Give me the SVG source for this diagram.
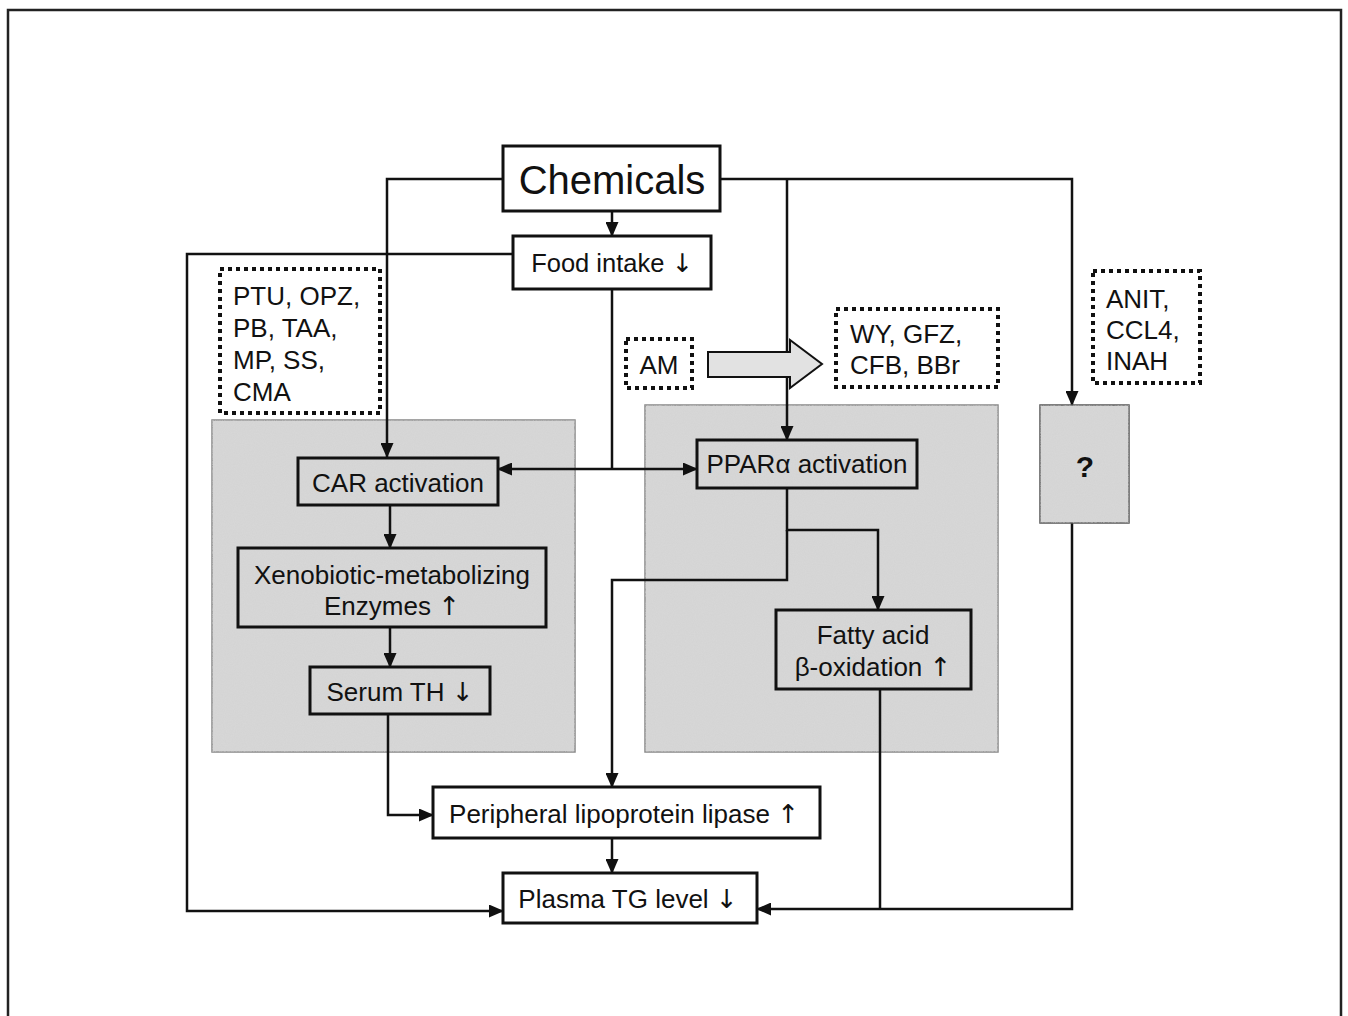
<svg xmlns="http://www.w3.org/2000/svg" width="1348" height="1016" viewBox="0 0 1348 1016">
<defs>
<marker id="ah" viewBox="0 0 15 13" refX="14" refY="6.5" markerWidth="15" markerHeight="13" markerUnits="userSpaceOnUse" orient="auto-start-reverse">
<path d="M0,0 L15,6.5 L0,13 Z" fill="#111"/>
</marker>
<filter id="grain" x="0" y="0" width="100%" height="100%">
<feTurbulence type="fractalNoise" baseFrequency="0.9" numOctaves="1" seed="3" result="n"/>
<feColorMatrix in="n" type="matrix" values="0 0 0 0 0.7  0 0 0 0 0.7  0 0 0 0 0.7  0 0 0 -1.5 1.2" result="g"/>
<feComposite in="g" in2="SourceGraphic" operator="in"/>
</filter>
</defs>
<style>
text{font-family:"Liberation Sans",Arial,sans-serif;fill:#111}
.c{text-anchor:middle}
.t{font-size:26px}
.d{font-size:26px}
.ar{font-family:"DejaVu Sans",sans-serif;fill:#111}
.box{fill:#fff;stroke:#111;stroke-width:3}
.gbox{fill:none;stroke:#111;stroke-width:3}
.panel{fill:#d4d4d4;stroke:#888;stroke-width:1.5}
.dot{fill:#fff;stroke:#111;stroke-width:4;stroke-dasharray:4 4}
.ln{fill:none;stroke:#111;stroke-width:2.5}
</style>
<rect x="0" y="0" width="1348" height="1016" fill="#fff"/>
<path d="M8,1016 V10 H1341 V1016" fill="none" stroke="#222" stroke-width="2.5"/>

<g id="panel-car">
<rect class="panel" x="212" y="420" width="363" height="332"/>
<rect x="212" y="420" width="363" height="332" filter="url(#grain)" opacity="0.6"/>
</g>
<g id="panel-ppar">
<rect class="panel" x="645" y="405" width="353" height="347"/>
<rect x="645" y="405" width="353" height="347" filter="url(#grain)" opacity="0.6"/>
</g>

<g id="connectors">
<path class="ln" d="M503,179 H387 V457" marker-end="url(#ah)"/>
<path class="ln" d="M720,179 H1072 V405" marker-end="url(#ah)"/>
<path class="ln" d="M787,179 V440" marker-end="url(#ah)"/>
<path class="ln" d="M612,211 V236" marker-end="url(#ah)"/>
<path class="ln" d="M513,254 H187 V911 H503" marker-end="url(#ah)"/>
<path class="ln" d="M612,289 V469"/>
<path class="ln" d="M498,469 H697" marker-start="url(#ah)" marker-end="url(#ah)"/>
<path class="ln" d="M390,505 V548" marker-end="url(#ah)"/>
<path class="ln" d="M390,627 V667" marker-end="url(#ah)"/>
<path class="ln" d="M388,714 V815 H433" marker-end="url(#ah)"/>
<path class="ln" d="M612,838 V873" marker-end="url(#ah)"/>
<path class="ln" d="M787,488 V530 H878 V610" marker-end="url(#ah)"/>
<path class="ln" d="M787,530 V580 H612 V787" marker-end="url(#ah)"/>
<path class="ln" d="M880,689 V909"/>
<path class="ln" d="M1072,523 V909 H757" marker-end="url(#ah)"/>
</g>

<g id="chemicals">
<rect class="box" x="503" y="146" width="217" height="65"/>
<text class="c" x="612" y="194" font-size="40">Chemicals</text>
</g>
<g id="food-intake">
<rect class="box" x="513" y="236" width="198" height="53"/>
<text class="c" x="612" y="272" font-size="25.5">Food intake <tspan class="ar">↓</tspan></text>
</g>
<g id="car-chemicals">
<rect class="dot" x="220" y="269" width="160" height="144"/>
<text class="d" x="233" y="305">PTU, OPZ,</text>
<text class="d" x="233" y="337">PB, TAA,</text>
<text class="d" x="233" y="369">MP, SS,</text>
<text class="d" x="233" y="401">CMA</text>
</g>
<g id="am">
<rect class="dot" x="626" y="339" width="66" height="49"/>
<text class="c d" x="659" y="374">AM</text>
</g>
<g id="am-arrow">
<path d="M708,352 H790 V340 L822,364 L790,388 V377 H708 Z" fill="#e2e2e2" stroke="#111" stroke-width="2"/>
</g>
<g id="ppar-chemicals">
<rect class="dot" x="836" y="309" width="162" height="78"/>
<text class="d" x="850" y="343">WY, GFZ,</text>
<text class="d" x="850" y="374">CFB, BBr</text>
</g>
<g id="other-chemicals">
<rect class="dot" x="1093" y="271" width="107" height="112"/>
<text class="d" x="1106" y="308">ANIT,</text>
<text class="d" x="1106" y="339">CCL4,</text>
<text class="d" x="1106" y="370">INAH</text>
</g>
<g id="car-activation">
<rect class="gbox" x="298" y="458" width="200" height="47"/>
<text class="c t" x="398" y="492">CAR activation</text>
</g>
<g id="xenobiotic">
<rect class="gbox" x="238" y="548" width="308" height="79"/>
<text class="c t" x="392" y="584">Xenobiotic-metabolizing</text>
<text class="c t" x="392" y="615">Enzymes <tspan class="ar">↑</tspan></text>
</g>
<g id="serum-th">
<rect class="gbox" x="310" y="667" width="180" height="47"/>
<text class="c t" x="400" y="701">Serum TH <tspan class="ar">↓</tspan></text>
</g>
<g id="ppar-activation">
<rect class="gbox" x="697" y="440" width="220" height="48"/>
<text class="c t" x="807" y="473">PPARα activation</text>
</g>
<g id="fatty-acid">
<rect class="gbox" x="776" y="610" width="195" height="79"/>
<text class="c t" x="873" y="644">Fatty acid</text>
<text class="c t" x="873" y="676">β-oxidation <tspan class="ar">↑</tspan></text>
</g>
<g id="unknown">
<rect x="1040" y="405" width="89" height="118" fill="#d4d4d4" stroke="#555" stroke-width="1.5"/>
<rect x="1040" y="405" width="89" height="118" filter="url(#grain)" opacity="0.6"/>
<text class="c" x="1085" y="477" font-size="30" font-weight="bold">?</text>
</g>
<g id="lipoprotein-lipase">
<rect class="box" x="433" y="787" width="387" height="51"/>
<text class="c t" x="624" y="823">Peripheral lipoprotein lipase <tspan class="ar">↑</tspan></text>
</g>
<g id="plasma-tg">
<rect class="box" x="503" y="873" width="254" height="50"/>
<text class="c t" x="628" y="908">Plasma TG level <tspan class="ar">↓</tspan></text>
</g>
</svg>
